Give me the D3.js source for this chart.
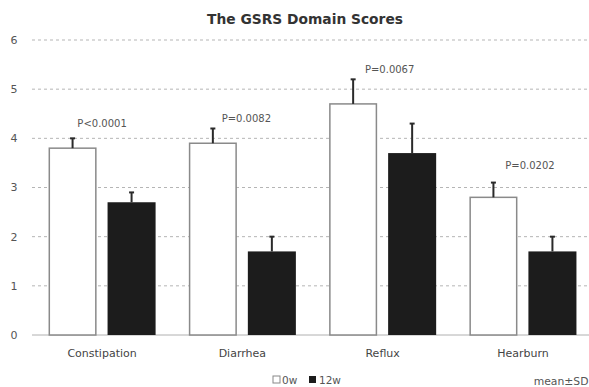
<!DOCTYPE html>
<html><head><meta charset="utf-8">
<script src="https://cdn.jsdelivr.net/npm/d3@7"></script>
<style>
html,body{margin:0;padding:0;background:#fff;}
text{font-family:"DejaVu Sans",Verdana,sans-serif;}
</style></head>
<body><svg id="c" width="589" height="387"></svg>
<script>
const categories = ["Constipation", "Diarrhea", "Reflux", "Hearburn"];
const series = ["0w", "12w"];
const mean0w = [3.8, 3.9, 4.7, 2.8];
const sd0w = [0.2, 0.3, 0.5, 0.3];
const mean12w = [2.7, 1.7, 3.7, 1.7];
const sd12w = [0.2, 0.3, 0.6, 0.3];
const pLabels = ["P<0.0001", "P=0.0082", "P=0.0067", "P=0.0202"];
const pLabelY = [4.3, 4.4, 5.4, 3.45];
const pLabelDx = [0, 4, 7, 7];
const yTicks = [0, 1, 2, 3, 4, 5, 6];

const svg = d3.select("#c");
const x = d3.scaleBand().domain(categories).range([32, 593]).paddingInner(0.237).paddingOuter(0.118);
const xs = d3.scaleBand().domain(series).range([0, x.bandwidth()]).paddingInner(0.186);
const y = d3.scaleLinear().domain([0, 6]).range([335, 40]);

// gridlines
svg.append("g").selectAll("line").data(yTicks.filter(d => d > 0)).join("line")
  .attr("x1", 32).attr("x2", 589).attr("y1", d => y(d)).attr("y2", d => y(d))
  .attr("stroke", "#b5b5b5").attr("stroke-width", 1).attr("stroke-dasharray", "3,3");
// baseline
svg.append("line").attr("x1", 32).attr("x2", 589).attr("y1", y(0)).attr("y2", y(0))
  .attr("stroke", "#b0b0b0").attr("stroke-width", 1);

// y tick labels
svg.append("g").selectAll("text").data(yTicks).join("text")
  .attr("x", 14).attr("y", d => y(d)).attr("dy", "0.35em").attr("text-anchor", "middle")
  .attr("font-size", 11).attr("fill", "#555").text(d => d);

const rows = categories.map((c, i) => ({c, i, vals: [
  {s: "0w", m: mean0w[i], sd: sd0w[i]},
  {s: "12w", m: mean12w[i], sd: sd12w[i]}]}));

const g = svg.append("g").selectAll("g").data(rows).join("g")
  .attr("transform", d => `translate(${x(d.c)},0)`);

g.selectAll("rect").data(d => d.vals).join("rect")
  .attr("x", d => xs(d.s) + (d.s === "0w" ? 0.75 : 0)).attr("y", d => y(d.m))
  .attr("width", d => xs.bandwidth() - (d.s === "0w" ? 1.5 : 0))
  .attr("height", d => y(0) - y(d.m))
  .attr("fill", d => d.s === "0w" ? "#fff" : "#1c1c1c")
  .attr("stroke", d => d.s === "0w" ? "#8a8a8a" : "none")
  .attr("stroke-width", 1.5);

// error bars
g.selectAll("line.err").data(d => d.vals).join("line").attr("class", "err")
  .attr("x1", d => xs(d.s) + xs.bandwidth() / 2).attr("x2", d => xs(d.s) + xs.bandwidth() / 2)
  .attr("y1", d => y(d.m)).attr("y2", d => y(d.m + d.sd))
  .attr("stroke", "#2a2a2a").attr("stroke-width", 2);
g.selectAll("line.cap").data(d => d.vals).join("line").attr("class", "cap")
  .attr("x1", d => xs(d.s) + xs.bandwidth() / 2 - 2.5).attr("x2", d => xs(d.s) + xs.bandwidth() / 2 + 2.5)
  .attr("y1", d => y(d.m + d.sd)).attr("y2", d => y(d.m + d.sd))
  .attr("stroke", "#2a2a2a").attr("stroke-width", 2);

// p labels
g.append("text").attr("x", d => x.bandwidth() / 2 + pLabelDx[d.i]).attr("y", d => y(pLabelY[d.i]))
  .attr("dy", "0.35em").attr("text-anchor", "middle").attr("font-size", 10).attr("fill", "#555")
  .text(d => pLabels[d.i]);

// category labels
svg.append("g").selectAll("text").data(categories).join("text")
  .attr("x", d => x(d) + x.bandwidth() / 2).attr("y", 353).attr("dy", "0.35em")
  .attr("text-anchor", "middle").attr("font-size", 11).attr("fill", "#444").text(d => d);

// title
svg.append("text").attr("x", 305).attr("y", 19).attr("dy", "0.35em").attr("text-anchor", "middle")
  .attr("font-size", 13.8).attr("font-weight", "bold").attr("fill", "#333").text("The GSRS Domain Scores");

// legend
const leg = svg.append("g").attr("transform", "translate(273,380)");
leg.append("rect").attr("x", 0).attr("y", -4).attr("width", 7).attr("height", 7)
  .attr("fill", "#fff").attr("stroke", "#888");
leg.append("text").attr("x", 9).attr("y", 0).attr("dy", "0.35em").attr("font-size", 10.5).attr("fill", "#555").text(series[0]);
leg.append("rect").attr("x", 36).attr("y", -4).attr("width", 7).attr("height", 7).attr("fill", "#1c1c1c");
leg.append("text").attr("x", 46).attr("y", 0).attr("dy", "0.35em").attr("font-size", 10.5).attr("fill", "#555").text(series[1]);

svg.append("text").attr("x", 588.5).attr("y", 381).attr("dy", "0.35em").attr("text-anchor", "end")
  .attr("font-size", 10.8).attr("fill", "#555").text("mean±SD");
</script></body></html>
